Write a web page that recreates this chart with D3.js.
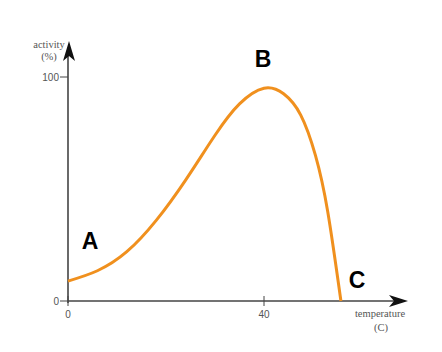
<!DOCTYPE html>
<html><head><meta charset="utf-8">
<script src="https://cdn.jsdelivr.net/npm/d3@7"></script>
<style>body{margin:0;background:#fff}svg{display:block}</style>
</head><body>
<svg id="c" width="442" height="352"></svg>
<script>
const temps = [0, 6, 12, 18, 24, 30, 35, 40, 44, 47.5, 50.5, 53, 55.7];
const activity = [8.9, 13.5, 22, 36, 54, 74, 88, 95, 92.5, 83, 65, 40, 0];
const xTicks = [0, 40];
const yTicks = [0, 100];
const pointLabels = [{t:"A", x:4.5, y:23}, {t:"B", x:39.8, y:104.5}, {t:"C", x:59, y:6}];

const svg = d3.select("#c");
const x = d3.scaleLinear().domain([0, 10]).range([68, 117]);
const y = d3.scaleLinear().domain([0, 100]).range([301, 77]);
const axisCol = "#444";

// axes lines
svg.append("line").attr("x1", 68).attr("x2", 396).attr("y1", y(0)).attr("y2", y(0)).attr("stroke", axisCol).attr("stroke-width", 1.6);
svg.append("line").attr("x1", 68).attr("x2", 68).attr("y1", y(0)+2).attr("y2", 55).attr("stroke", axisCol).attr("stroke-width", 1.6);
// arrowheads
svg.append("path").attr("d", "M69,41 L75,61 L69,56 L63,61 Z").attr("fill", "#111");
svg.append("path").attr("d", `M408,${y(0)} L389,${y(0)-6} L394,${y(0)} L389,${y(0)+6} Z`).attr("fill", "#111");

// ticks
xTicks.forEach(v => {
  svg.append("line").attr("x1", x(v)).attr("x2", x(v)).attr("y1", y(0)-5).attr("y2", y(0)+5).attr("stroke", axisCol).attr("stroke-width", 1);
  svg.append("text").attr("x", x(v)).attr("y", y(0)+17).attr("text-anchor", "middle").attr("font-family", "Liberation Sans, Arial, sans-serif").attr("font-size", 10).attr("fill", "#555").text(v);
});
yTicks.forEach(v => {
  svg.append("line").attr("x1", 60).attr("x2", 68).attr("y1", y(v)).attr("y2", y(v)).attr("stroke", axisCol).attr("stroke-width", 1);
  svg.append("text").attr("x", 59).attr("y", y(v)+3.5).attr("text-anchor", "end").attr("font-family", "Liberation Sans, Arial, sans-serif").attr("font-size", 10).attr("fill", "#555").text(v);
});

// axis titles
const serif = "Liberation Serif, Times New Roman, serif";
const tcol = "#555";
svg.append("text").attr("x", 49).attr("y", 48).attr("text-anchor", "middle").attr("font-family", serif).attr("font-size", 10.5).attr("fill", tcol).text("activity");
svg.append("text").attr("x", 49).attr("y", 60).attr("text-anchor", "middle").attr("font-family", serif).attr("font-size", 10.5).attr("fill", tcol).text("(%)");
svg.append("text").attr("x", 380).attr("y", 317).attr("text-anchor", "middle").attr("font-family", serif).attr("font-size", 10.5).attr("fill", tcol).text("temperature");
svg.append("text").attr("x", 381).attr("y", 331).attr("text-anchor", "middle").attr("font-family", serif).attr("font-size", 10.5).attr("fill", tcol).text("(C)");

// curve
const data = temps.map((t, i) => [t, activity[i]]);
svg.append("path").datum(data)
  .attr("d", d3.line().x(d => x(d[0])).y(d => y(d[1])).curve(d3.curveNatural))
  .attr("fill", "none").attr("stroke", "#f0901e").attr("stroke-width", 3);

// labels
pointLabels.forEach(p => {
  svg.append("text").attr("x", x(p.x)).attr("y", y(p.y)).attr("text-anchor", "middle")
    .attr("font-family", "Liberation Sans, Arial, sans-serif").attr("font-weight", "bold").attr("font-size", 23).attr("fill", "#000").text(p.t);
});
</script>
</body></html>
